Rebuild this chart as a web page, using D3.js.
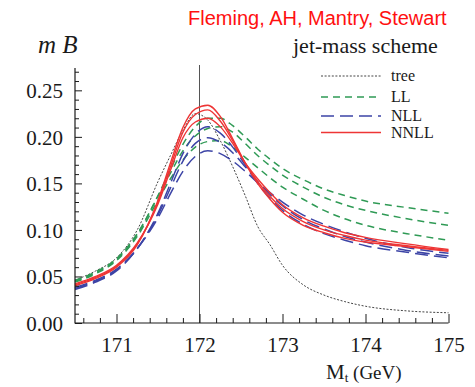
<!DOCTYPE html>
<html><head><meta charset="utf-8">
<script src="https://cdn.jsdelivr.net/npm/d3@7"></script>
<style>
html,body{margin:0;padding:0;background:#fff;}
svg{display:block;}
</style></head>
<body>
<svg id="chart" width="475" height="387"></svg>
<script>
const masses = [170.5,170.75,171.0,171.25,171.5,171.65,171.8,171.95,172.1,172.25,172.4,172.55,172.7,172.85,173.0,173.25,173.5,173.75,174.0,174.5,175.0];

const tree = [0.046,0.056,0.070,0.100,0.152,0.180,0.207,0.225,0.218,0.196,0.168,0.137,0.104,0.084,0.062,0.041,0.030,0.023,0.018,0.013,0.011];

const llHigh = [0.045,0.054,0.068,0.095,0.137,0.165,0.192,0.211,0.220,0.220,0.212,0.200,0.187,0.176,0.166,0.154,0.144,0.137,0.131,0.124,0.118];
const llMid  = [0.046,0.055,0.069,0.096,0.136,0.161,0.185,0.201,0.209,0.211,0.205,0.193,0.180,0.169,0.159,0.146,0.135,0.127,0.121,0.112,0.105];
const llLow  = [0.044,0.053,0.067,0.093,0.132,0.155,0.175,0.189,0.195,0.196,0.189,0.178,0.167,0.156,0.146,0.133,0.121,0.112,0.105,0.096,0.089];

const nllHigh = [0.036,0.044,0.056,0.080,0.118,0.150,0.182,0.203,0.211,0.204,0.189,0.170,0.150,0.134,0.121,0.106,0.096,0.089,0.083,0.076,0.070];
const nllMid  = [0.037,0.045,0.057,0.080,0.116,0.145,0.174,0.193,0.199,0.194,0.183,0.168,0.152,0.138,0.126,0.111,0.101,0.093,0.087,0.078,0.072];
const nllLow  = [0.038,0.046,0.058,0.080,0.113,0.139,0.163,0.179,0.185,0.182,0.174,0.163,0.151,0.140,0.130,0.116,0.106,0.098,0.091,0.081,0.075];

const nnllHigh = [0.040,0.048,0.060,0.084,0.132,0.172,0.210,0.230,0.234,0.222,0.198,0.172,0.150,0.133,0.119,0.105,0.097,0.091,0.087,0.082,0.077];
const nnllMid  = [0.041,0.049,0.061,0.085,0.130,0.168,0.205,0.224,0.229,0.217,0.196,0.172,0.152,0.136,0.123,0.109,0.100,0.094,0.089,0.083,0.078];
const nnllLow  = [0.042,0.050,0.062,0.086,0.128,0.164,0.199,0.216,0.220,0.211,0.193,0.172,0.155,0.140,0.127,0.113,0.104,0.097,0.092,0.085,0.079];

const xMajor = [171,172,173,174,175];
const yMajor = [0,0.05,0.10,0.15,0.20,0.25];
const legendLabels = ["tree","LL","NLL","NNLL"];

const styles = {
  tree: {color:"#444", width:1, dash:"2,1.6"},
  LL:   {color:"#2f9a55", width:1.5, dash:"7,5"},
  NLL:  {color:"#3c44a6", width:1.5, dash:"13,6"},
  NNLL: {color:"#ee3535", width:1.4, dash:null}
};

const series = [
  {key:"tree", vals:tree},
  {key:"LL", vals:llHigh},{key:"LL", vals:llMid},{key:"LL", vals:llLow},
  {key:"NLL", vals:nllHigh},{key:"NLL", vals:nllMid},{key:"NLL", vals:nllLow},
  {key:"NNLL", vals:nnllHigh},{key:"NNLL", vals:nnllMid},{key:"NNLL", vals:nnllLow}
];

const svg = d3.select("#chart");
const x = d3.scaleLinear().domain([170.5,175]).range([75,448.5]);
const y = d3.scaleLinear().domain([0,0.274]).range([323,68]);
const serif = "'Liberation Serif','Times New Roman',serif";
const ink = "#1a1a1a";

const line = d3.line().x((d,i)=>x(masses[i])).y(d=>y(d)).curve(d3.curveMonotoneX);

// vertical line at 172
svg.append("line").attr("x1",x(172)).attr("x2",x(172)).attr("y1",65).attr("y2",y(0))
  .attr("stroke","#555").attr("stroke-width",1);

const plot = svg.append("g");
series.forEach(s=>{
  const st = styles[s.key];
  plot.append("path").datum(s.vals).attr("d",line)
    .attr("fill","none").attr("stroke",st.color).attr("stroke-width",st.width)
    .attr("stroke-dasharray",st.dash);
});

// axes
const xMinor = d3.range(170.6,175.001,0.2).filter(v=>!xMajor.some(m=>Math.abs(m-v)<1e-6));
const yMinor = d3.range(0.01,0.2741,0.01).filter(v=>!yMajor.some(m=>Math.abs(m-v)<1e-6));

const gx = svg.append("g").attr("transform",`translate(0,${y(0)})`)
  .call(d3.axisBottom(x).tickValues(xMajor).tickSizeInner(-9).tickSizeOuter(0).tickPadding(25).tickFormat(d3.format("d")));
gx.append("g").call(d3.axisBottom(x).tickValues(xMinor).tickSizeInner(-5).tickSizeOuter(0).tickFormat(""));
gx.selectAll(".domain").remove();
gx.selectAll("text").attr("font-family",serif).attr("font-size",21).attr("fill",ink).attr("dy","0.2em");
gx.selectAll("line").attr("stroke",ink);

const gy = svg.append("g").attr("transform",`translate(${x(170.5)},0)`)
  .call(d3.axisLeft(y).tickValues(yMajor).tickSizeInner(-7).tickSizeOuter(0).tickPadding(12).tickFormat(d3.format(".2f")));
gy.append("g").call(d3.axisLeft(y).tickValues(yMinor).tickSizeInner(-4).tickSizeOuter(0).tickFormat(""));
gy.selectAll(".domain").remove();
gy.selectAll("text").attr("font-family",serif).attr("font-size",21).attr("fill",ink).attr("dy","0.35em");
gy.selectAll("line").attr("stroke",ink);

svg.append("line").attr("x1",75).attr("x2",75).attr("y1",68).attr("y2",323.5).attr("stroke",ink).attr("stroke-width",1.2);
svg.append("line").attr("x1",75).attr("x2",448.5).attr("y1",323).attr("y2",323).attr("stroke",ink).attr("stroke-width",1.2);

// titles
svg.append("text").attr("x",188).attr("y",25).attr("font-family","'Liberation Sans',Arial,sans-serif")
  .attr("font-size",20).attr("fill","#ff1010").text("Fleming, AH, Mantry, Stewart");
svg.append("text").attr("x",38).attr("y",53).attr("font-family",serif).attr("font-size",25)
  .attr("font-style","italic").attr("fill",ink).text("m B");
svg.append("text").attr("x",293).attr("y",53).attr("font-family",serif).attr("font-size",22)
  .attr("fill",ink).text("jet-mass scheme");

const xl = svg.append("text").attr("x",326).attr("y",379).attr("font-family",serif).attr("font-size",21).attr("fill",ink);
xl.append("tspan").text("M");
xl.append("tspan").attr("font-size",13).attr("dy",3).text("t");
xl.append("tspan").attr("dy",-3).attr("font-size",19).text(" (GeV)");

// legend
const legY = [76, 97, 116, 132.5];
legendLabels.forEach((lab,i)=>{
  const st = styles[lab];
  svg.append("line").attr("x1",321).attr("x2",381).attr("y1",legY[i]).attr("y2",legY[i])
    .attr("stroke",st.color).attr("stroke-width",st.width).attr("stroke-dasharray",st.dash);
  svg.append("text").attr("x",391).attr("y",legY[i]+5).attr("font-family",serif).attr("font-size",16)
    .attr("fill",ink).text(lab);
});
</script>
</body></html>
